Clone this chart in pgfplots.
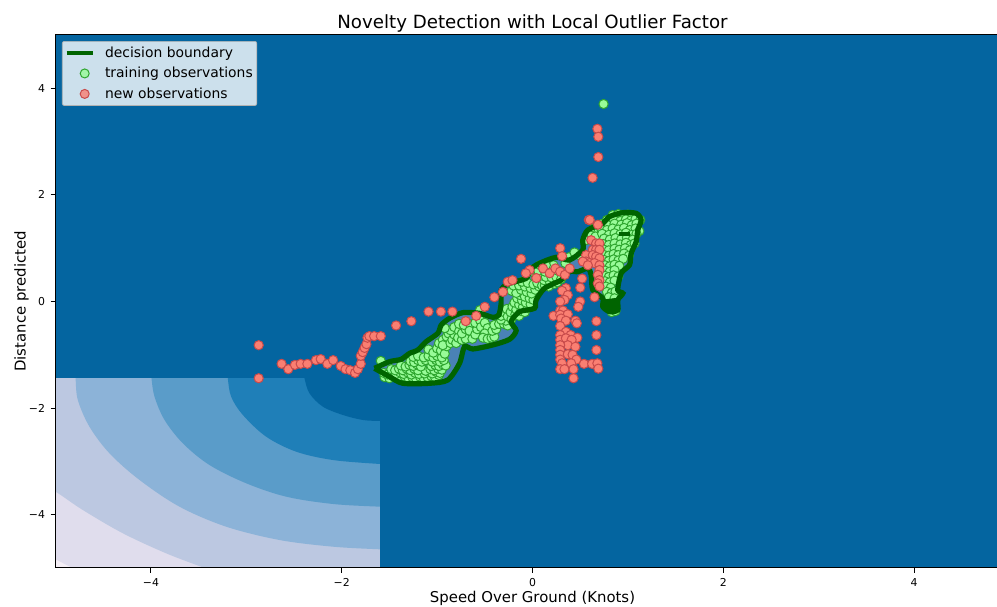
\documentclass[border=0pt]{standalone}
\usepackage{fontspec}
\setmainfont{DejaVu Sans}
\usepackage{pgfplots}
\pgfplotsset{compat=1.18}
\definecolor{cDark}{HTML}{0465A0}
\definecolor{cA}{HTML}{1F7FB8}
\definecolor{cB}{HTML}{5A9CC9}
\definecolor{cC}{HTML}{8CB3D8}
\definecolor{cD}{HTML}{BCC8E1}
\definecolor{cE}{HTML}{E0DDED}
\definecolor{cF}{HTML}{F5EFF6}
\definecolor{cIn}{HTML}{4A82B6}
\definecolor{cLine}{HTML}{006400}
\definecolor{gFace}{HTML}{98FB98}
\definecolor{gEdge}{HTML}{2EA52E}
\definecolor{rFace}{HTML}{FA7F72}
\definecolor{rEdge}{HTML}{C84B4B}
\pgfplotstableread{
x y
0.745 3.705
-1.59 -1.115
-1.55 -1.42
-1.50 -1.44
-1.46 -1.40
-1.42 -1.43
-1.38 -1.45
-1.34 -1.41
-1.30 -1.44
-1.26 -1.42
-1.22 -1.45
-1.18 -1.41
-1.14 -1.44
-1.10 -1.42
-1.06 -1.40
-1.02 -1.43
-0.98 -1.38
-1.56 -1.34
-1.52 -1.37
-1.47 -1.33
-1.43 -1.36
-1.39 -1.33
-1.35 -1.36
-1.31 -1.33
-1.27 -1.37
-1.23 -1.34
-1.19 -1.36
-1.13 -1.35
-1.09 -1.32
-1.05 -1.35
-1.01 -1.32
-0.97 -1.34
-1.48 -1.27
-1.44 -1.29
-1.40 -1.26
-1.36 -1.29
-1.32 -1.26
-1.28 -1.29
-1.24 -1.26
-1.20 -1.29
-1.12 -1.30
-1.07 -1.27
-1.03 -1.29
-0.99 -1.26
-0.95 -1.28
-1.38 -1.20
-1.33 -1.22
-1.29 -1.19
-1.25 -1.21
-1.21 -1.18
-1.17 -1.22
-1.06 -1.21
-1.02 -1.19
-0.98 -1.21
-0.94 -1.18
-0.91 -1.20
-1.28 -1.12
-1.24 -1.14
-1.20 -1.10
-1.16 -1.13
-1.12 -1.10
-1.05 -1.13
-1.01 -1.10
-0.97 -1.13
-0.93 -1.10
-1.25 -1.04
-1.20 -1.02
-1.14 -1.05
-1.09 -1.02
-1.04 -1.05
-1.00 -1.02
-0.95 -1.05
-1.09 -0.90
-1.04 -0.96
-1.00 -0.88
-0.96 -0.92
-0.92 -0.98
-0.90 -0.84
-0.98 -0.78
-0.94 -0.72
-0.90 -0.66
-0.94 -0.82
-0.86 -0.78
-0.88 -0.60
-0.84 -0.72
-0.82 -0.62
-0.86 -0.54
-0.80 -0.78
-0.92 -0.50
-0.82 -0.48
-0.77 -0.56
-0.78 -0.68
-0.74 -0.72
-0.70 -0.70
-0.74 -0.60
-0.70 -0.52
-0.77 -0.42
-0.72 -0.44
-0.65 -0.43
-0.66 -0.55
-0.63 -0.70
-0.60 -0.62
-0.58 -0.52
-0.60 -0.40
-0.55 -0.35
-0.54 -0.48
-0.50 -0.40
-0.47 -0.50
-0.50 -0.60
-0.52 -0.68
-0.47 -0.70
-0.43 -0.68
-0.40 -0.66
-0.42 -0.55
-0.38 -0.52
-0.40 -0.44
-0.35 -0.42
-0.30 -0.42
-0.26 -0.45
-0.28 -0.36
-0.33 -0.34
-0.55 -0.16
-0.33 -0.27
-0.30 -0.20
-0.26 -0.28
-0.22 -0.33
-0.27 -0.14
-0.23 -0.20
-0.18 -0.24
-0.14 -0.27
-0.21 -0.10
-0.17 -0.15
-0.12 -0.18
-0.08 -0.20
-0.19 -0.02
-0.14 -0.06
-0.10 -0.10
-0.05 -0.12
-0.16 0.06
-0.11 0.02
-0.07 -0.02
-0.02 -0.05
-0.13 0.12
-0.08 0.09
-0.03 0.06
0.01 0.03
-0.22 0.20
-0.17 0.16
-0.12 0.22
-0.06 0.18
-0.01 0.15
-0.20 0.30
-0.14 0.30
-0.08 0.28
-0.02 0.25
0.03 0.22
-0.11 0.37
-0.05 0.35
0.01 0.32
0.07 0.28
0.05 0.35
0.10 0.30
0.13 0.30
0.17 0.28
0.12 0.40
0.18 0.38
0.23 0.33
0.26 0.36
0.03 0.50
0.08 0.48
0.14 0.46
0.20 0.45
0.25 0.46
0.30 0.42
0.00 0.60
0.06 0.58
0.13 0.56
0.19 0.60
0.22 0.68
0.14 0.68
0.08 0.68
0.26 0.58
0.345 0.72
0.38 0.83
0.44 0.92
0.50 0.86
0.56 1.15
0.62 1.25
0.65 1.38
0.69 1.30
0.66 1.22
0.84 1.62
0.90 1.64
0.95 1.61
1.00 1.63
1.05 1.60
0.78 1.53
0.85 1.55
0.92 1.51
0.98 1.54
1.03 1.52
1.08 1.55
1.13 1.53
0.72 1.45
0.79 1.43
0.86 1.46
0.93 1.44
0.99 1.47
1.04 1.43
1.09 1.46
0.72 1.36
0.78 1.34
0.84 1.37
0.90 1.35
0.96 1.38
1.02 1.34
1.08 1.37
1.12 1.32
0.73 1.27
0.80 1.25
0.86 1.28
0.92 1.26
0.98 1.29
1.04 1.25
1.09 1.27
0.75 1.18
0.81 1.16
0.87 1.19
0.93 1.17
0.99 1.20
1.05 1.16
0.74 1.08
0.80 1.06
0.86 1.09
0.92 1.07
0.98 1.10
1.03 1.06
1.07 1.09
0.74 0.98
0.80 0.96
0.86 0.99
0.91 0.97
0.97 1.00
1.02 0.96
0.74 0.88
0.80 0.86
0.85 0.89
0.90 0.87
0.96 0.90
1.01 0.86
0.75 0.78
0.80 0.76
0.85 0.79
0.90 0.77
0.95 0.80
0.76 0.68
0.81 0.66
0.86 0.69
0.91 0.67
0.76 0.58
0.81 0.56
0.86 0.59
0.76 0.48
0.80 0.46
0.85 0.49
0.90 0.47
0.76 0.38
0.81 0.36
0.86 0.39
0.77 0.28
0.82 0.26
0.78 0.18
0.83 0.16
0.87 0.19
0.80 0.08
0.86 0.06
0.80 -0.05
0.86 -0.03
0.83 -0.20
0.87 -0.18
}\trainpts
\pgfplotstableread{
x y
-2.87 -0.82
-2.87 -1.44
-2.63 -1.17
-2.56 -1.27
-2.49 -1.19
-2.43 -1.17
-2.36 -1.17
-2.27 -1.10
-2.22 -1.08
-2.15 -1.17
-2.09 -1.10
-2.01 -1.21
-1.96 -1.27
-1.91 -1.29
-1.86 -1.34
-1.83 -1.27
-1.80 -1.17
-1.80 -1.02
-1.78 -0.95
-1.76 -0.87
-1.74 -0.80
-1.73 -0.68
-1.71 -0.65
-1.66 -0.65
-1.59 -0.65
-1.43 -0.45
-1.27 -0.37
-1.09 -0.19
-0.96 -0.19
-0.84 -0.19
-0.70 -0.37
-0.59 -0.27
-0.50 -0.10
-0.40 0.08
-0.31 0.18
-0.26 0.37
-0.21 0.40
-0.12 0.80
-0.03 0.59
-0.07 0.53
0.04 0.44
0.11 0.62
0.18 0.53
0.24 0.62
0.29 1.00
0.29 0.56
0.34 0.50
0.31 0.85
0.39 0.62
0.59 1.53
0.685 1.44
0.615 1.15
0.667 1.09
0.702 1.09
0.632 0.97
0.667 0.97
0.702 0.97
0.562 0.87
0.632 0.87
0.667 0.84
0.702 0.81
0.562 0.75
0.597 0.72
0.650 0.72
0.702 0.68
0.527 0.75
0.580 0.68
0.702 0.59
0.685 0.50
0.702 0.40
0.685 0.34
0.702 0.28
0.650 0.08
0.52 0.43
0.50 0.26
0.50 0.00
0.48 -0.10
0.35 0.25
0.31 0.20
0.37 0.12
0.335 0.03
0.29 0.00
0.29 -0.17
0.32 -0.17
0.22 -0.27
0.29 -0.25
0.37 -0.24
0.30 -0.32
0.35 -0.36
0.45 -0.36
0.465 -0.41
0.67 -0.37
0.29 -0.46
0.35 -0.57
0.40 -0.63
0.47 -0.68
0.29 -0.63
0.29 -0.72
0.35 -0.69
0.41 -0.72
0.37 -0.82
0.45 -0.85
0.29 -0.82
0.29 -0.91
0.29 -1.00
0.37 -0.99
0.42 -1.00
0.46 -1.09
0.29 -1.09
0.405 -1.16
0.31 -1.16
0.29 -1.27
0.335 -1.27
0.43 -1.27
0.43 -1.44
0.54 -1.17
0.625 -1.17
0.68 -1.16
0.69 -1.26
0.67 -0.91
0.67 -0.63
0.68 3.24
0.69 3.09
0.69 2.71
0.63 2.32
0.60 1.53
}\newpts
\pgfplotstableread{
x y
-1.656 -1.254
-1.499 -1.129
-1.377 -1.085
-1.289 -0.973
-1.202 -0.910
-1.115 -0.754
-0.992 -0.597
-0.957 -0.441
-0.870 -0.316
-0.730 -0.209
-0.556 -0.222
-0.416 -0.297
-0.353 -0.253
-0.329 -0.034
-0.329 0.216
-0.259 0.328
-0.066 0.435
-0.032 0.591
0.073 0.716
0.248 0.829
0.388 0.779
0.527 0.966
0.527 1.154
0.580 1.341
0.737 1.467
0.807 1.592
0.947 1.667
1.087 1.654
1.139 1.529
1.104 1.341
1.087 1.123
1.034 0.904
1.017 0.685
0.929 0.529
0.894 0.216
0.947 0.153
0.894 0.028
0.894 -0.160
0.807 -0.191
0.737 -0.097
0.737 0.059
0.632 0.216
0.615 0.497
0.580 0.622
0.475 0.560
0.388 0.560
0.300 0.403
0.126 0.247
0.038 0.028
0.021 -0.128
-0.136 -0.191
-0.224 -0.379
-0.171 -0.547
-0.241 -0.710
-0.416 -0.816
-0.625 -0.891
-0.713 -0.847
-0.765 -1.160
-0.888 -1.473
-1.080 -1.535
-1.359 -1.535
-1.499 -1.410
-1.656 -1.254
}\boundary
\begin{document}
\begin{tikzpicture}[x=1pt,y=1pt]
\path[use as bounding box] (0,0) rectangle (997,607);
\begin{axis}[
  at={(55.5pt,39pt)}, anchor=south west,
  scale only axis, width=954pt, height=533pt,
  xmin=-5, xmax=5, ymin=-5, ymax=5,
  clip marker paths=true,
  xtick={-4,-2,0,2,4}, ytick={-4,-2,0,2,4},
  xticklabels={−4,−2,0,2,4}, yticklabels={−4,−2,0,2,4},
  tick align=outside, xtick pos=bottom, ytick pos=left,
  major tick length=5pt,
  tick style={black,line width=1pt},
  axis line style={black,line width=1pt},
  tick label style={font=\fontsize{10.9}{12}\selectfont},
  xticklabel style={yshift=-2pt}, yticklabel style={xshift=-2pt},
  title={Novelty Detection with Local Outlier Factor},
  title style={font=\fontsize{18.2}{21}\selectfont,at={(axis cs:0,5)},anchor=base,yshift=0pt},
  xlabel={Speed Over Ground (Knots)},
  xlabel style={font=\fontsize{14.9}{17}\selectfont,at={(axis cs:0,-5)},anchor=base,yshift=-35pt},
  ylabel={Distance predicted},
  ylabel style={font=\fontsize{14.9}{17}\selectfont,at={(axis cs:-5,0)},anchor=base,rotate=0,yshift=30pt},
  legend cell align=left,
  legend style={at={(rel axis cs:0.0068,0.9887)},anchor=north west,font=\fontsize{13.9}{15}\selectfont,
    fill=white,fill opacity=0.8,text opacity=1,draw=gray!60,rounded corners=2pt,
    inner xsep=2pt,inner ysep=3.6pt,row sep=4.4pt,line width=0.7pt},
  axis on top,
]
% contour bands
\addplot[forget plot,fill=cDark,draw=none] coordinates {(-5,-5)(5,-5)(5,5)(-5,5)};
\addplot[forget plot,fill=cF,draw=none] coordinates {(-5,-5)(-1.597,-5)(-1.597,-1.44)(-5,-1.44)};
\addplot[forget plot,fill=cE,draw=none,smooth,tension=0.55] coordinates {(-7,3)(-7,-1)(-6,-4.2)(-5.4,-4.62)(-5.15,-4.73)(-5,-4.837)(-4.819,-5)(-4.6,-5.15)(-4,-5.5)(-1,-6)(3,-6)(6,-6)(6,6)};
\addplot[forget plot,fill=cD,draw=none,smooth,tension=0.55] coordinates {(-7,3)(-7,-1)(-6,-3)(-5.4,-3.3)(-5.15,-3.46)(-5,-3.568)(-4.714,-3.912)(-4.294,-4.349)(-3.840,-4.725)(-3.438,-5)(-3.3,-5.1)(-3,-5.3)(-1,-6)(3,-6)(6,-6)(6,6)};
\addplot[forget plot,fill=cC,draw=none,smooth,tension=0.55] coordinates {(-4.8,3)(-4.8,1.2)(-4.8,-0.3)(-4.8,-1)(-4.8,-1.3)(-4.790,-1.44)(-4.766,-1.848)(-4.644,-2.349)(-4.434,-2.849)(-4.119,-3.349)(-3.700,-3.85)(-3.211,-4.225)(-2.652,-4.475)(-2.093,-4.600)(-1.597,-4.650)(-1.45,-4.655)(-1.2,-4.66)(-0.5,-4.66)(1,-4.66)(6,-4.66)(6,6)};
\addplot[forget plot,fill=cB,draw=none,smooth,tension=0.55] coordinates {(-4,3)(-4,1.2)(-4,-0.3)(-4,-1)(-4,-1.3)(-3.994,-1.44)(-3.962,-1.786)(-3.857,-2.223)(-3.665,-2.661)(-3.386,-3.068)(-3.001,-3.411)(-2.582,-3.662)(-2.093,-3.799)(-1.597,-3.85)(-1.45,-3.855)(-1.2,-3.86)(-0.5,-3.86)(1,-3.86)(6,-3.86)(6,6)};
\addplot[forget plot,fill=cA,draw=none,smooth,tension=0.55] coordinates {(-3.2,3)(-3.2,1.2)(-3.2,-0.3)(-3.2,-1)(-3.2,-1.3)(-3.194,-1.44)(-3.159,-1.786)(-3.036,-2.129)(-2.792,-2.536)(-2.477,-2.818)(-2.093,-2.974)(-1.597,-3.049)(-1.45,-3.055)(-1.2,-3.06)(-0.5,-3.06)(1,-3.06)(6,-3.06)(6,6)};
\addplot[forget plot,fill=cDark,draw=none,smooth,tension=0.55] coordinates {(-2.4,3)(-2.4,1.2)(-2.4,-0.3)(-2.4,-1)(-2.4,-1.3)(-2.39,-1.44)(-2.338,-1.722)(-2.198,-1.973)(-1.988,-2.129)(-1.778,-2.223)(-1.597,-2.242)(-1.45,-2.245)(-1.2,-2.25)(-0.5,-2.25)(1,-2.25)(6,-2.25)(6,6)};
\addplot[forget plot,fill=cDark,draw=none] coordinates {(-5,-1.44)(5,-1.44)(5,5)(-5,5)};
\addplot[forget plot,fill=cDark,draw=none] coordinates {(-1.597,-5)(5,-5)(5,5)(-1.597,5)};
% inside of the boundary
\addplot[forget plot,fill=cIn,draw=none,smooth,tension=0.45] table[x=x,y=y] {\boundary};
% training observations
\addplot[forget plot,only marks,mark=*,mark size=4.6pt,mark options={fill=gFace,draw=gEdge,line width=1pt}] table[x=x,y=y] {\trainpts};
% decision boundary
\addplot[forget plot,cLine,line width=5.2pt,smooth,tension=0.45] table[x=x,y=y] {\boundary};
\addplot[forget plot,fill=cLine,draw=cLine,line width=1pt] coordinates {(0.737,0.028)(0.894,0.059)(0.894,-0.128)(0.825,-0.191)(0.737,-0.128)(0.737,0.028)};
\addplot[forget plot,fill=cLine,draw=cLine,line width=1pt] coordinates {(0.912,1.298)(1.017,1.298)(1.017,1.229)(0.912,1.229)(0.912,1.298)};
% new observations
\addplot[forget plot,only marks,mark=*,mark size=4.6pt,mark options={fill=rFace,draw=rEdge,line width=1pt}] table[x=x,y=y] {\newpts};
% legend
\addlegendimage{legend image code/.code={\draw[cLine,line width=4.3pt] (2pt,0pt) -- (28pt,0pt);\path (0pt,0pt) (38pt,0pt);}}
\addlegendentry{decision boundary}
\addlegendimage{legend image code/.code={\path (0pt,0pt) (38pt,0pt);\node[circle,draw=gEdge,fill=gFace,line width=1pt,inner sep=0pt,minimum size=9pt] at (15pt,0pt) {};}}
\addlegendentry{training observations}
\addlegendimage{legend image code/.code={\path (0pt,0pt) (38pt,0pt);\node[circle,draw=rEdge,fill=rFace,line width=1pt,inner sep=0pt,minimum size=9pt] at (15pt,0pt) {};}}
\addlegendentry{new observations}
\end{axis}
\end{tikzpicture}
\end{document}
